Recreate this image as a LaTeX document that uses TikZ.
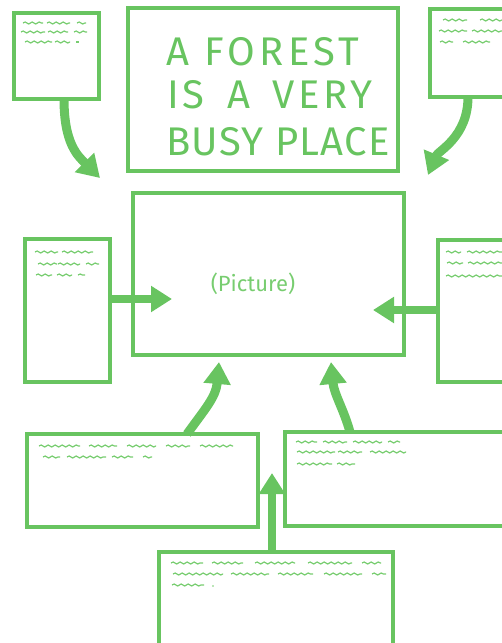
\documentclass[tikz,border=0pt]{standalone}
\usepackage{fontspec}
\setmainfont{Fira Sans}
\usetikzlibrary{arrows.meta,decorations.pathmorphing}
\definecolor{fg}{RGB}{104,196,96}
\definecolor{fgl}{RGB}{120,205,112}
\begin{document}
\begin{tikzpicture}[x=1pt,y=-1pt,
  box/.style={draw=fg,line width=3.1pt,inner sep=0pt,outer sep=0pt},
  arr/.style={draw=fg,line width=8pt,-{Triangle[width=25pt,length=21pt]}},
  carr/.style={draw=fg,line width=9pt,-{Triangle[width=26pt,length=22pt]}},
  sq/.style={draw=fgl,line width=1.2pt,decorate,decoration={snake,segment length=7pt,amplitude=1pt}},
  title/.style={text=fg,font=\fontsize{40}{40}\selectfont,anchor=base west,inner sep=0pt},
  pic/.style={text=fgl,font=\fontsize{22}{22}\selectfont,inner sep=0pt}]
\useasboundingbox (0,0) rectangle (502,643);
\clip (0,0) rectangle (502,643);
% boxes
\node[box,minimum width=85pt,minimum height=86pt] (tl) at (56.5,56) {};
\node[box,minimum width=270pt,minimum height=163pt] (title) at (263,89.5) {};
\node[box,minimum width=110pt,minimum height=88pt] (tr) at (485,53) {};
\node[box,minimum width=271pt,minimum height=162pt] (pic) at (268.5,274) {};
\node[box,minimum width=85pt,minimum height=143pt] (lm) at (67.5,310.5) {};
\node[box,minimum width=102pt,minimum height=142pt] (rm) at (489,311) {};
\node[box,minimum width=231pt,minimum height=93pt] (bl) at (142.5,480.5) {};
\node[box,minimum width=255pt,minimum height=94pt] (br) at (412.5,479) {};
\node[box,minimum width=234pt,minimum height=128pt] (bot) at (276,616) {};
% title text
\node[title] (t1) at (166,65) {\addfontfeature{LetterSpace=11}A FOREST};
\node[title] (t2) at (167,108) {\addfontfeature{LetterSpace=9}IS\hspace{8.5pt} A\hspace{8.5pt} VERY};
\node[title] (t3) at (166,155) {\addfontfeature{LetterSpace=3}BUSY PLACE};
\node[pic] (ptext) at (253,284) {(Picture)};
% arrows
\coordinate (tlTip) at (100,178);
\coordinate (trTip) at (428,175);
\coordinate (lmTip) at (172,299);
\coordinate (rmTip) at (373,310);
\coordinate (blTip) at (219,362);
\coordinate (brTip) at (331,362);
\coordinate (botTip) at (272,473);
\draw[carr] ([xshift=7.5pt]tl.south) .. controls +(0,45) and +(-22,-22) .. (tlTip);
\draw[carr] ([xshift=-17pt]tr.south) .. controls +(0,40) and +(10,-24) .. (trTip);
\draw[arr] (lm.east |- lmTip) -- (lmTip);
\draw[arr] (rm.west |- rmTip) -- (rmTip);
\draw[carr] ([xshift=44.5pt]bl.north) .. controls +(18,-25) and +(-3,35) .. (blTip);
\draw[carr] ([xshift=-62.5pt]br.north) .. controls +(-6,-22) and +(3,32) .. (brTip);
\draw[arr] (bot.north -| botTip) -- (botTip);
% placeholder squiggles
\foreach \a/\b/\y in {23/43/23,47/70/23,77/86/23,21/45/32,48/68/32,74/87/32,25/52/42,55/70/42,76/79/42,
  443/467/20,480/502/20,439/467/31,472/502/31,440/453/42,463/490/42,
  35/58/252,62/93/252,38/57/264,58/80/264,86/99/264,36/52/275,57/72/275,78/85/275,
  446/461/252,467/502/252,447/463/263,468/502/263,446/502/276,
  39/80/446,89/117/446,127/156/446,166/190/446,200/233/446,43/60/457,67/106/457,112/133/457,143/152/457,
  296/317/442,323/347/442,353/382/442,388/400/442,297/335/452,338/362/452,370/406/452,297/332/464,337/355/464,
  171/203/563,212/243/563,255/295/563,308/352/563,362/381/563,173/223/574,231/269/574,278/313/574,324/362/574,372/386/574,172/204/585}
  \draw[sq] (\a,\y) -- (\b,\y);
\fill[fgl] (213,586) circle (0.9pt);
\end{tikzpicture}
\end{document}
